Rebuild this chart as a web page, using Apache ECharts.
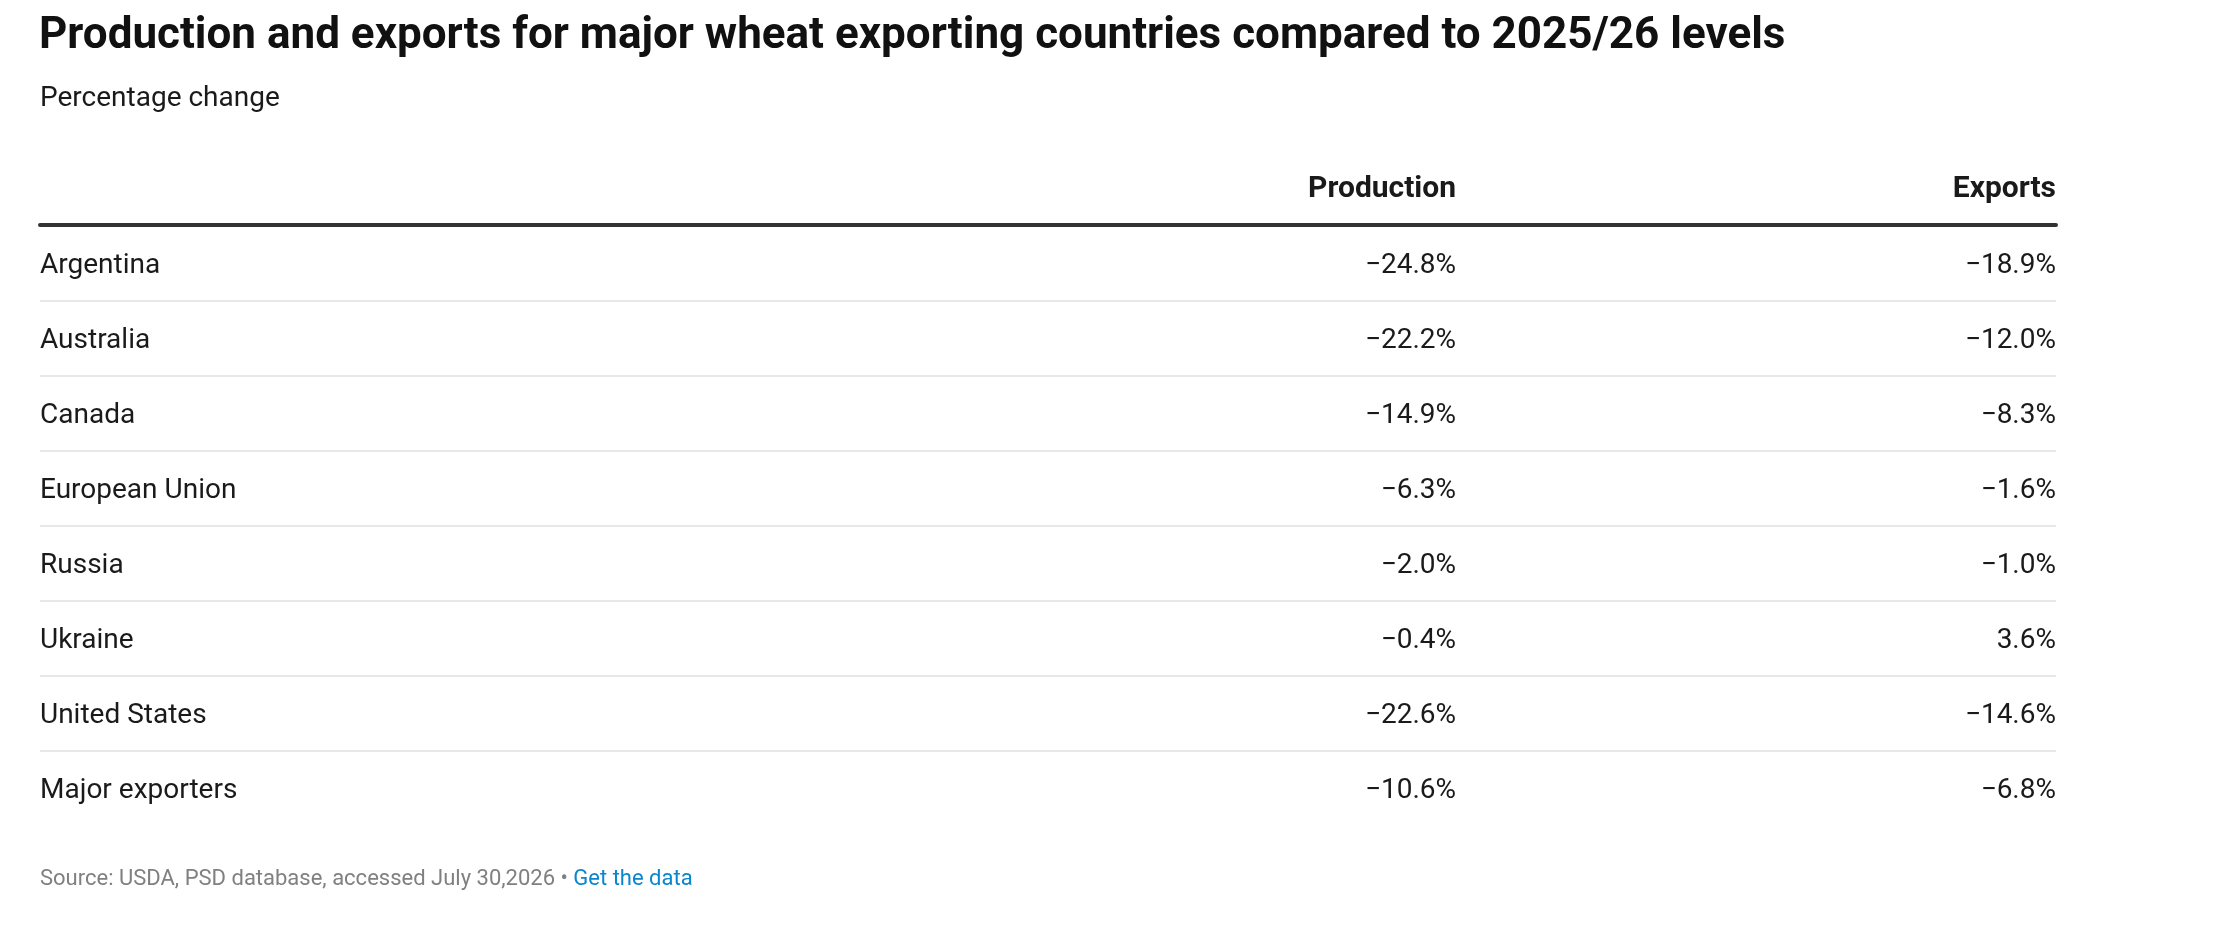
<!DOCTYPE html>
<html>
<head>
<meta charset="utf-8">
<script src="https://cdn.jsdelivr.net/npm/echarts@6/dist/echarts.min.js"></script>
<style>
  html, body { margin: 0; padding: 0; background: #ffffff; }
  #chart { width: 2230px; height: 930px; }
</style>
</head>
<body>
<div id="chart"></div>
<script>
// ---- data ----
const titleText = 'Production and exports for major wheat exporting countries compared to 2025/26 levels';
const subtitleText = 'Percentage change';
const columnHeaders = ['Production', 'Exports'];
const countries = ['Argentina', 'Australia', 'Canada', 'European Union', 'Russia', 'Ukraine', 'United States', 'Major exporters'];
const production = [-24.8, -22.2, -14.9, -6.3, -2.0, -0.4, -22.6, -10.6];
const exportsChange = [-18.9, -12.0, -8.3, -1.6, -1.0, 3.6, -14.6, -6.8];
const sourceText = 'Source: USDA, PSD database, accessed July 30,2026 • ';
const linkText = 'Get the data';

// ---- helpers ----
function fmt(v) {
  const s = Math.abs(v).toFixed(1) + '%';
  return v < 0 ? '\u2212' + s : s;
}

const FONT = 'Roboto, "Noto Sans", sans-serif';
const COL_X = [0.7024, 1]; // right edges of the two value columns on the hidden x scale (0..1)

const chart = echarts.init(document.getElementById('chart'), null, { renderer: 'canvas' });

const tableData = countries.map((c, i) => [i, production[i], exportsChange[i]]);

chart.setOption({
  backgroundColor: '#ffffff',
  animation: false,
  title: [
    {
      text: titleText,
      left: 39,
      top: 15,
      padding: 0,
      textStyle: { fontFamily: FONT, fontSize: 44, fontWeight: 'bold', color: '#111111', lineHeight: 44 }
    },
    {
      text: subtitleText,
      left: 40,
      top: 85,
      padding: 0,
      textStyle: { fontFamily: FONT, fontSize: 28, fontWeight: 'normal', color: '#1a1a1a', lineHeight: 28 }
    }
  ],
  grid: { left: 40, right: 174, top: 225, height: 600, containLabel: false },
  xAxis: {
    type: 'value',
    position: 'top',
    min: 0,
    max: 1,
    axisLine: { show: true, onZero: false, lineStyle: { color: '#333333', width: 4 } },
    axisTick: { show: false },
    axisLabel: { show: false },
    splitLine: { show: false }
  },
  yAxis: {
    type: 'category',
    inverse: true,
    data: countries,
    axisLine: { show: false },
    axisTick: { show: false },
    axisLabel: { show: false },
    splitLine: { show: false }
  },
  series: [{
    type: 'custom',
    data: tableData,
    encode: { y: 0 },
    clip: false,
    renderItem: function (params, api) {
      const i = api.value(0);
      const cs = params.coordSys;
      const center = api.coord([0, i]);
      const band = api.size([0, 1])[1];
      const y = center[1];
      const ty = y + 3;
      const xProd = api.coord([COL_X[0], i])[0];
      const xExp = api.coord([COL_X[1], i])[0];
      const children = [
        { type: 'text', style: { text: countries[params.dataIndex], x: cs.x, y: ty, align: 'left', verticalAlign: 'middle', font: '28px ' + FONT, fill: '#1a1a1a' } },
        { type: 'text', style: { text: fmt(api.value(1)), x: xProd, y: ty, align: 'right', verticalAlign: 'middle', font: '28px ' + FONT, fill: '#1a1a1a' } },
        { type: 'text', style: { text: fmt(api.value(2)), x: xExp, y: ty, align: 'right', verticalAlign: 'middle', font: '28px ' + FONT, fill: '#1a1a1a' } }
      ];
      if (params.dataIndex < countries.length - 1) {
        children.push({ type: 'line', shape: { x1: cs.x, y1: y + band / 2 + 1, x2: cs.x + cs.width, y2: y + band / 2 + 1 }, style: { stroke: '#e8e8e8', lineWidth: 2 } });
      }
      if (params.dataIndex === 0) {
        const hy = y - band / 2 - 35.5;
        children.push({ type: 'text', style: { text: columnHeaders[0], x: xProd, y: hy, align: 'right', verticalAlign: 'middle', font: 'bold 30px ' + FONT, fill: '#1a1a1a' } });
        children.push({ type: 'text', style: { text: columnHeaders[1], x: xExp, y: hy, align: 'right', verticalAlign: 'middle', font: 'bold 30px ' + FONT, fill: '#1a1a1a' } });
      }
      return { type: 'group', children: children };
    }
  }],
  graphic: [{
    type: 'text',
    left: 40,
    top: 868,
    style: {
      text: '{a|' + sourceText + '}{b|' + linkText + '}',
      font: '22px ' + FONT,
      rich: {
        a: { fontFamily: FONT, fontSize: 22, fill: '#808080', color: '#808080' },
        b: { fontFamily: FONT, fontSize: 22, fill: '#0a86cc', color: '#0a86cc' }
      }
    }
  }]
});
</script>
</body>
</html>
